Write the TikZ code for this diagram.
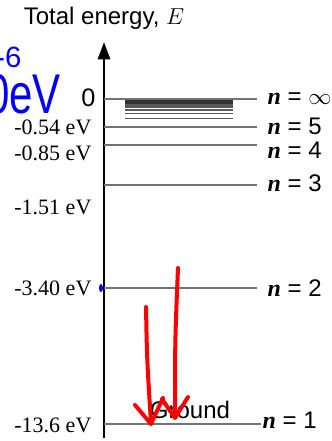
\documentclass[tikz,border=0pt]{standalone}
\usepackage{fontspec}
\setmainfont{Liberation Serif}
\setsansfont{Liberation Sans}
\usetikzlibrary{arrows.meta,positioning}

\newcommand{\lvn}[1]{{\rmfamily\bfseries\itshape n} = #1}

\tikzset{
  level/.style={draw=black!55, line width=1.5pt},
  band/.style={draw=black!65, line width=0.8pt},
  lvlname/.style={anchor=west, inner sep=1pt, font=\sffamily\fontsize{18}{18}\selectfont},
  evlabel/.style={anchor=east, inner sep=1pt, font=\fontsize{16.5}{16.5}\selectfont},
  photon/.style={red, line width=3pt, line cap=round, line join=round},
  ink/.style={blue, inner sep=0pt, font=\sffamily\fontsize{42}{42}\selectfont}
}

\begin{document}
\begin{tikzpicture}[x=0.75pt, y=-0.75pt]
  \useasboundingbox (0,0) rectangle (331,441);

  % energy axis
  \coordinate (base) at (104,438);
  \coordinate (top) at (104,42);
  \draw[line width=2.2pt, -{Triangle[length=13pt,width=9pt]}] (base) -- (top);
  \node[font=\sffamily\fontsize{18}{18}\selectfont, anchor=south] (title) at (104,34) {Total energy, $E$};

  % levels
  \coordinate (einf) at (104,99);
  \node[lvlname] (ninf) at (266,99) {\lvn{$\infty$}};
  \draw[level] (einf) -- (257,99);
  \node[font=\sffamily\fontsize{19}{19}\selectfont, anchor=east, inner sep=1pt] (vinf) at (97,98) {0};

  \coordinate (e5) at (104,127);
  \node[lvlname] (n5) at (266,126) {\lvn{5}};
  \draw[level] (e5) -- (257,127);
  \node[evlabel] (v5) at (93,127) {-0.54 eV};

  \coordinate (e4) at (104,145);
  \node[lvlname] (n4) at (266,150) {\lvn{4}};
  \draw[level] (e4) -- (257,145);
  \node[evlabel] (v4) at (93,153) {-0.85 eV};

  \coordinate (e3) at (104,185);
  \node[lvlname] (n3) at (266,183) {\lvn{3}};
  \draw[level] (e3) -- (257,185);
  \node[evlabel] (v3) at (93,207) {-1.51 eV};

  \coordinate (e2) at (104,288);
  \node[lvlname] (n2) at (266,288) {\lvn{2}};
  \draw[level] (e2) -- (257,288);
  \node[evlabel] (v2) at (93,288) {-3.40 eV};

  \coordinate (e1) at (104,424);
  \node[lvlname] (n1) at (261,420) {\lvn{1}};
  \draw[level] (e1) -- (n1.west |- e1);
  \node[evlabel] (v1) at (93,425) {-13.6 eV};
  \node[font=\sffamily\fontsize{18}{18}\selectfont, inner sep=0pt] (ground) at (190,410) {Ground};

  % levels crowding towards n = infinity
  \draw[band] (125,118.5) -- (233,118.5);
  \draw[band] (125,113.5) -- (233,113.5);
  \draw[band] (125,110) -- (233,110);
  \draw[band] (125,107.7) -- (233,107.7);
  \draw[band] (125,106) -- (233,106);
  \draw[band] (125,104.7) -- (233,104.7);
  \draw[band, black!80] (125,103.6) -- (233,103.6);
  \draw[band, black!80] (125,102.5) -- (233,102.5);
  \draw[band, black!80] (125,101.4) -- (233,101.4);
  \draw[band, black!80] (125,100.3) -- (233,100.3);

  % hand-drawn notes
  \fill[blue] (101,288) ellipse (2 and 4);
  \node[ink, anchor=south west, xscale=0.75, transform shape] (note) at (-14,114) {0eV};
  \node[blue, inner sep=0pt, anchor=west, font=\sffamily\fontsize{22}{22}\selectfont] (exp) at (-5,57) {-6};

  \draw[photon] (146,307) .. controls (147,360) .. (151,423);
  \draw[photon] (135,405) -- (151,424) -- (163,398);
  \draw[photon] (178,268) .. controls (175,340) .. (175,417);
  \draw[photon] (162,399) -- (175,418) -- (188,397);
\end{tikzpicture}
\end{document}
